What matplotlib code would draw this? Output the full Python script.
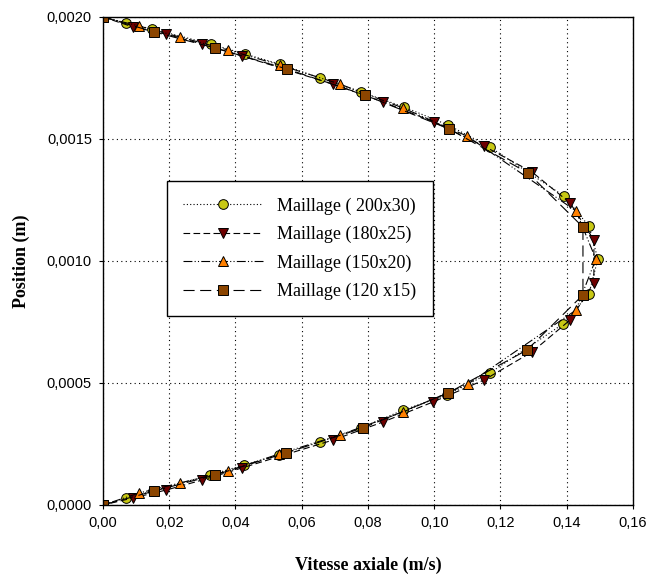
import matplotlib
matplotlib.use("Agg")
import matplotlib.pyplot as plt
from matplotlib.ticker import FuncFormatter, MultipleLocator

# Profils de vitesse axiale pour quatre maillages
v_200x30 = [0, 0.0069, 0.0148, 0.0326, 0.0429, 0.0534, 0.0655, 0.0779, 0.0909, 0.1042,
            0.1168, 0.1392, 0.1467, 0.1494, 0.1467, 0.1389, 0.1168, 0.1038, 0.0906,
            0.0779, 0.0655, 0.0531, 0.0426, 0.0323, 0.0151, 0.0069, 0]
y_200x30 = [0.002, 0.001975, 0.001951, 0.001889, 0.001848, 0.001807, 0.00175, 0.001693,
            0.001631, 0.001557, 0.001467, 0.001266, 0.001143, 0.001008, 0.000865,
            0.000742, 0.000541, 0.000451, 0.000389, 0.000316, 0.000258, 0.000205,
            0.000164, 0.000123, 0.000057, 0.000029, 0]

v_180x25 = [0, 0.0091, 0.0190, 0.0299, 0.0420, 0.0694, 0.0845, 0.0999, 0.1150, 0.1295,
            0.1410, 0.1482, 0.1482, 0.1410, 0.1295, 0.1150, 0.0996, 0.0845, 0.0694,
            0.0420, 0.0299, 0.0190, 0.0091, 0]
y_180x25 = [0.002, 0.001959, 0.00193, 0.001889, 0.00184, 0.001725, 0.001652, 0.00157,
            0.001471, 0.001365, 0.001238, 0.001086, 0.00091, 0.000758, 0.000627,
            0.000512, 0.000422, 0.00034, 0.000266, 0.000152, 0.000102, 0.000061,
            0.000029, 0]

v_150x20 = [0, 0.0109, 0.0232, 0.0377, 0.0534, 0.0715, 0.0906, 0.1099, 0.1428, 0.1488,
            0.1428, 0.1102, 0.0906, 0.0715, 0.0531, 0.0377, 0.0232, 0.0109, 0]
y_150x20 = [0.002, 0.001963, 0.001918, 0.001865, 0.001803, 0.001725, 0.001627, 0.001512,
            0.001205, 0.001008, 0.000799, 0.000496, 0.000381, 0.000287, 0.000209,
            0.000139, 0.00009, 0.000049, 0]

v_120x15 = [0, 0.0154, 0.0338, 0.0555, 0.0791, 0.1045, 0.1283, 0.1449, 0.1449, 0.1280,
            0.1042, 0.0785, 0.0552, 0.0338, 0.0154, 0]
y_120x15 = [0.002, 0.001939, 0.001873, 0.001787, 0.00168, 0.001541, 0.001361, 0.001139,
            0.000861, 0.000635, 0.000459, 0.000316, 0.000213, 0.000123, 0.000057, 0]

fig = plt.figure(figsize=(6.49, 5.84), dpi=100)
ax = fig.add_axes([0.1587, 0.1353, 0.8166, 0.8356])

ax.plot(v_200x30, y_200x30, color="black", lw=0.8, ls=(0, (1, 2)),
        marker="o", ms=7, mfc="#c8c814", mec="black", mew=0.7, label="Maillage ( 200x30)")
ax.plot(v_180x25, y_180x25, color="black", lw=0.8, ls=(0, (6, 3)),
        marker="v", ms=7.5, mfc="#6e0000", mec="black", mew=0.7, label="Maillage (180x25)")
ax.plot(v_150x20, y_150x20, color="black", lw=0.8, ls=(0, (8, 2, 1, 2, 1, 2)),
        marker="^", ms=7.5, mfc="#ff8000", mec="black", mew=0.7, label="Maillage (150x20)")
ax.plot(v_120x15, y_120x15, color="black", lw=0.8, ls=(0, (10, 5)),
        marker="s", ms=7, mfc="#8b4500", mec="black", mew=0.7, label="Maillage (120 x15)")

ax.set_xlim(0, 0.16)
ax.set_ylim(0, 0.002)
ax.xaxis.set_major_locator(MultipleLocator(0.02))
ax.yaxis.set_major_locator(MultipleLocator(0.0005))
ax.xaxis.set_major_formatter(FuncFormatter(lambda v, p: f"{v:.2f}".replace(".", ",")))
ax.yaxis.set_major_formatter(FuncFormatter(lambda v, p: f"{v:.4f}".replace(".", ",")))

ax.grid(True, color="black", lw=0.8, ls=(0, (1, 3)))
ax.set_axisbelow(True)
ax.tick_params(direction="out", length=3, width=0.8, labelsize=10.5, pad=5)
for lab in ax.get_xticklabels() + ax.get_yticklabels():
    lab.set_family("Liberation Sans")
for s in ax.spines.values():
    s.set_linewidth(1.0)

ax.set_xlabel("Vitesse axiale (m/s)", family="Liberation Serif", fontweight="bold",
              fontsize=13, labelpad=19)
ax.set_ylabel("Position (m)", family="Liberation Serif", fontweight="bold",
              fontsize=13, labelpad=12)

leg = ax.legend(loc="upper left", bbox_to_anchor=(0.121, 0.664), borderaxespad=0,
                prop={"family": "Liberation Serif", "size": 13},
                handlelength=4.4, labelspacing=0.62, borderpad=0.9,
                fancybox=False, framealpha=1, edgecolor="black")
leg.get_frame().set_linewidth(1.0)

fig.savefig("out.png", dpi=100)
